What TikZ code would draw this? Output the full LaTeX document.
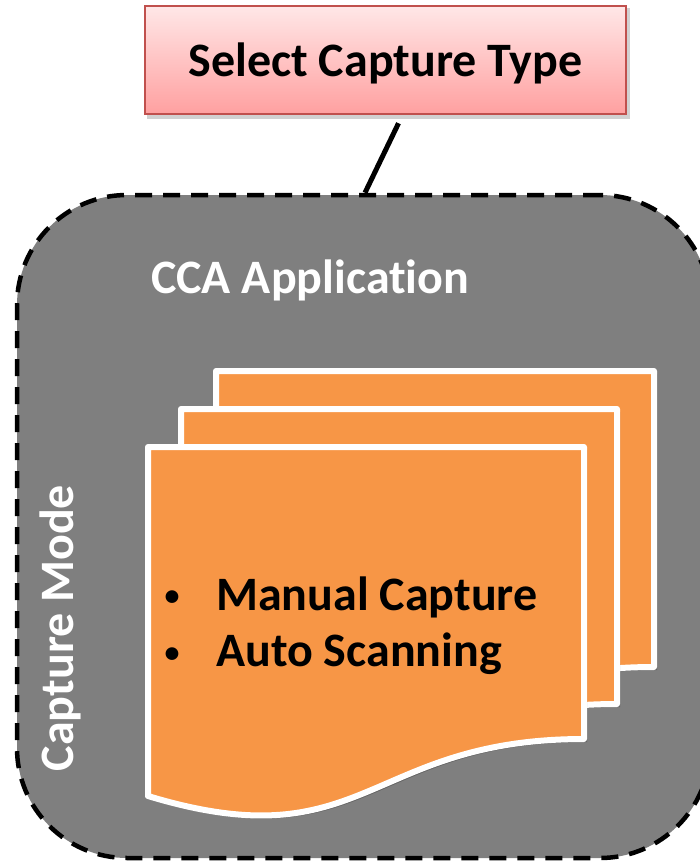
\documentclass[tikz,border=0pt]{standalone}
\usepackage{fontspec}
\setmainfont{Carlito}[Ligatures=NoCommon]
\definecolor{panelgray}{RGB}{127,127,127}
\definecolor{docorange}{RGB}{247,150,70}
\definecolor{selborder}{RGB}{192,80,77}
\definecolor{seltop}{RGB}{255,231,231}
\definecolor{selbottom}{RGB}{255,160,160}
\tikzset{
  bigtext/.style={font=\fontsize{48}{57}\selectfont\bfseries, inner sep=0pt},
  bulletmark/.style={font=\fontsize{30}{36}\selectfont\bfseries, inner sep=0pt},
  docpage/.style={fill=docorange, draw=white, line width=6pt, line join=round},
  docshadow/.style={fill=black, opacity=0.22},
}
\begin{document}
\begin{tikzpicture}[x=1pt,y=-1pt]
\useasboundingbox (0,0) rectangle (700,861);
\clip (0,0) rectangle (700,861);

% application container
\node[draw=black, fill=panelgray, line width=4.5pt, dash pattern=on 17pt off 11pt,
      rounded corners=110pt, minimum width=693pt, minimum height=663pt,
      inner sep=0pt] (app) at (363.5,526.5) {};

% selector box with its shadow
\fill[black, opacity=0.18] (147,8) rectangle (630,119);
\node[draw=selborder, line width=2.5pt, top color=seltop, bottom color=selbottom,
      minimum width=481pt, minimum height=108pt, inner sep=0pt] (sel) at (385.5,60) {};
\node[bigtext, anchor=base] (seltxt) at (385.5,77) {Select Capture Type};

% link from selector to container
\draw[line width=5pt] ([xshift=13pt,yshift=-8pt]sel.south) -- ([xshift=1.5pt]app.north);

\node[bigtext, white, anchor=base west] (apptitle) at (151,293) {CCA Application};
\node[bigtext, white, rotate=90, anchor=base] (mode) at (73,628) {Capture Mode};

% stacked document pages (back to front)
\fill[docshadow] (219,374) -- (657,374) -- (657,670) .. controls (438,670) and (438,793) .. (219,727) -- cycle;
\draw[docpage] (216,371) -- (654,371) -- (654,667) .. controls (435,667) and (435,790) .. (216,724) -- cycle;
\fill[docshadow] (184,412) -- (620,412) -- (620,707) .. controls (402,707) and (402,830) .. (184,764) -- cycle;
\draw[docpage] (181,409) -- (617,409) -- (617,704) .. controls (399,704) and (399,827) .. (181,761) -- cycle;
\fill[docshadow] (151,450) -- (587,450) -- (587,742) .. controls (369,742) and (369,865) .. (151,799) -- cycle;
\draw[docpage] (148,447) -- (584,447) -- (584,739) .. controls (366,739) and (366,862) .. (148,796) -- cycle;

% bullet list
\node[bulletmark, anchor=base] (b1) at (172,605) {•};
\node[bigtext, anchor=base west] (t1) at (216,610) {Manual Capture};
\node[bulletmark, anchor=base] (b2) at (172,662) {•};
\node[bigtext, anchor=base west] (t2) at (216,666) {Auto Scanning};
\end{tikzpicture}
\end{document}
